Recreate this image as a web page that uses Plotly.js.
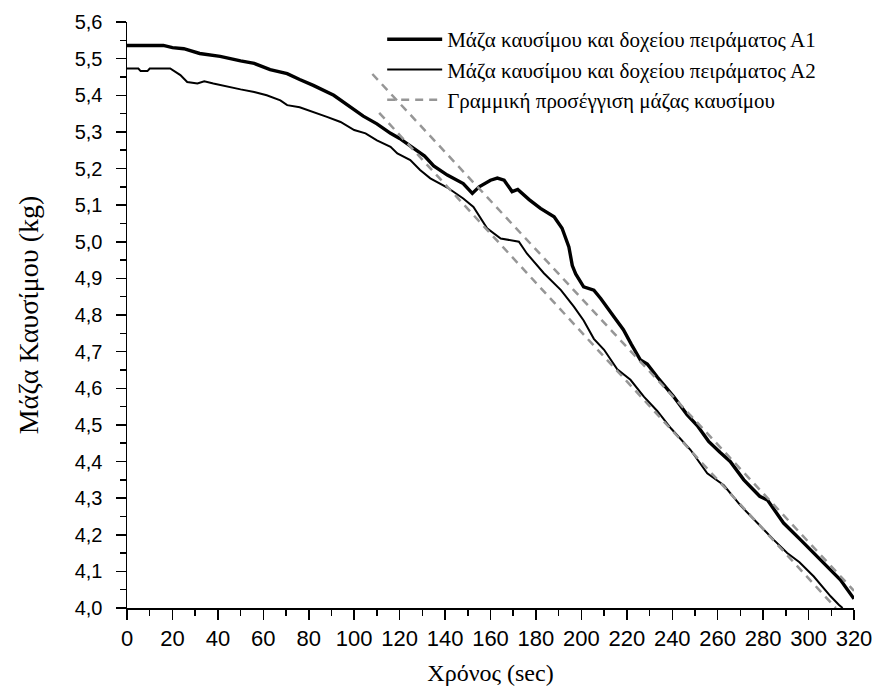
<!DOCTYPE html>
<html>
<head>
<meta charset="utf-8">
<script src="https://cdn.plot.ly/plotly-3.0.1.min.js"></script>
<style>html,body{margin:0;padding:0;background:#fff;}#chart{width:875px;height:691px;}</style>
</head>
<body>
<div id="chart"></div>
<script>
// Series A1 (thick line): time (s) and mass (kg)
var a1Time = [0,16,20,25,32,41,50,56,63,70.5,76,82,91,98,104,110,116,120,126,131,135,141,148,152,155,160,163,166,169.5,172,177,182,188,191.5,194.5,196,197.5,201,205.5,208.5,214,218.5,222,226,229,233.5,240.5,246.5,251,256,261,265.5,271.5,278.5,282,289,296.5,303.8,308,314,320];
var a1Mass = [5.536,5.536,5.530,5.527,5.514,5.506,5.494,5.487,5.470,5.459,5.443,5.427,5.400,5.370,5.343,5.322,5.296,5.282,5.255,5.234,5.207,5.182,5.159,5.132,5.150,5.168,5.174,5.168,5.137,5.143,5.115,5.091,5.068,5.037,4.986,4.935,4.912,4.877,4.868,4.845,4.798,4.760,4.720,4.677,4.666,4.630,4.578,4.528,4.498,4.455,4.425,4.400,4.350,4.305,4.294,4.232,4.186,4.141,4.114,4.077,4.025];

// Series A2 (thin line)
var a2Time = [0,5,6,9,10,19,23.5,26.5,31,34,38,44,50,56,61.5,67.5,70.5,76,82,88,94,100,105,110,116,119,124.7,129,133.5,141,148,152.5,158.5,164.5,172.5,176,183.5,191,196.7,201,205.5,210,215.8,221.6,227.5,233.4,239.5,248,255.4,262.7,270,277.4,284.7,290.6,296,302.3,309.7,313.3,315];
var a2Mass = [5.473,5.473,5.466,5.466,5.473,5.473,5.455,5.436,5.432,5.438,5.432,5.423,5.416,5.409,5.400,5.386,5.373,5.367,5.355,5.341,5.327,5.305,5.296,5.277,5.259,5.241,5.223,5.196,5.173,5.148,5.118,5.095,5.037,5.009,5.000,4.968,4.914,4.868,4.823,4.785,4.735,4.705,4.652,4.623,4.577,4.538,4.490,4.432,4.368,4.335,4.280,4.232,4.186,4.150,4.125,4.086,4.032,4.009,4.000];

// Linear approximations (end points of the two dashed fit lines)
var fitTime = [108, 320, null, 111, 312];
var fitMass = [5.458, 4.047, null, 5.352, 4.000];

var seriesNames = [
  'Μάζα καυσίμου και δοχείου πειράματος Α1',
  'Μάζα καυσίμου και δοχείου πειράματος Α2',
  'Γραμμική προσέγγιση μάζας καυσίμου'
];
var xTitle = 'Χρόνος (sec)';
var yTitle = 'Μάζα Καυσίμου (kg)';
var xRange = [0, 320];
var yRange = [4.0, 5.6];

var traces = [
  {x: a1Time, y: a1Mass, name: seriesNames[0], mode: 'lines', line: {color: '#000', width: 3.4}},
  {x: a2Time, y: a2Mass, name: seriesNames[1], mode: 'lines', line: {color: '#000', width: 2}},
  {x: fitTime, y: fitMass, name: seriesNames[2], mode: 'lines', connectgaps: false,
   line: {color: 'rgb(150,150,150)', width: 2.5, dash: '8px,6px'}}
];

var sans = 'Liberation Sans, Arial, sans-serif';
var serif = 'Liberation Serif, Times New Roman, serif';

var layout = {
  width: 875, height: 691,
  margin: {l: 127, r: 21, t: 22, b: 83},
  paper_bgcolor: '#fff', plot_bgcolor: '#fff',
  separators: ',.',
  showlegend: true,
  legend: {
    x: 0.351, xanchor: 'left', y: 1.005, yanchor: 'top',
    bgcolor: 'rgba(0,0,0,0)', borderwidth: 0,
    font: {family: serif, size: 21, color: '#000'},
    itemwidth: 55
  },
  xaxis: {
    range: xRange, tickmode: 'linear', tick0: 0, dtick: 20,
    ticks: 'outside', ticklen: 10, tickwidth: 1.5, tickcolor: '#000',
    minor: {dtick: 10, ticks: 'outside', ticklen: 6, tickwidth: 1.5, tickcolor: '#000'},
    showline: true, linecolor: '#000', linewidth: 1.5,
    showgrid: false, zeroline: false,
    tickfont: {family: sans, size: 22, color: '#000'}, ticklabelstandoff: 0,
    title: {text: xTitle, font: {family: serif, size: 24, color: '#000'}, standoff: 14}
  },
  yaxis: {
    range: yRange, tickmode: 'linear', tick0: 4.0, dtick: 0.1, tickformat: '.1f',
    ticks: 'outside', ticklen: 10, tickwidth: 1.5, tickcolor: '#000',
    minor: {dtick: 0.05, ticks: 'outside', ticklen: 6, tickwidth: 1.5, tickcolor: '#000'},
    showline: true, linecolor: '#000', linewidth: 1.5,
    showgrid: false, zeroline: false,
    tickfont: {family: sans, size: 20, color: '#000'}, ticklabelstandoff: 9,
    title: {text: yTitle, font: {family: serif, size: 28, color: '#000'}, standoff: 28}
  },
  xaxis2: {
    overlaying: 'x', side: 'top', anchor: 'y', range: xRange,
    tickmode: 'linear', tick0: 0, dtick: 20,
    ticks: 'inside', ticklen: 10, tickwidth: 1.5, tickcolor: '#000',
    minor: {dtick: 10, ticks: 'inside', ticklen: 6, tickwidth: 1.5, tickcolor: '#000'},
    showticklabels: false, showline: true, linecolor: '#000', linewidth: 1.5,
    showgrid: false, zeroline: false
  },
  yaxis2: {
    overlaying: 'y', side: 'right', anchor: 'x', range: yRange,
    ticks: '', showticklabels: false, showline: true, linecolor: '#000', linewidth: 1.5,
    showgrid: false, zeroline: false
  }
};

Plotly.newPlot('chart', traces, layout, {displayModeBar: false, staticPlot: true});
</script>
</body>
</html>
